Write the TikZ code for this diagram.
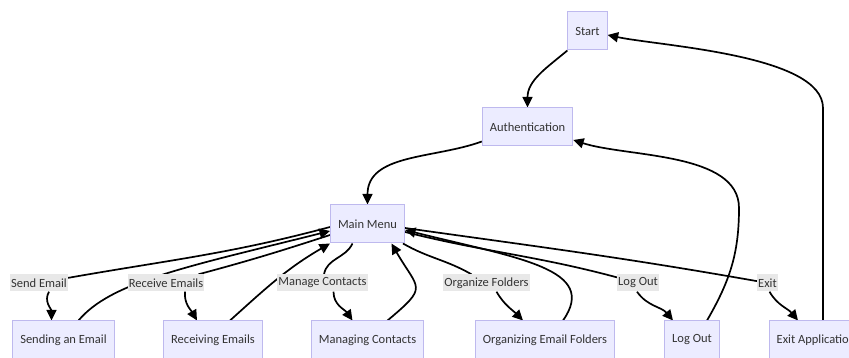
\documentclass[tikz,border=0pt]{standalone}
\usepackage{fontspec}
\setmainfont{Carlito}
\usetikzlibrary{arrows.meta,backgrounds}
\definecolor{boxfill}{RGB}{236,236,255}
\definecolor{boxline}{RGB}{190,185,238}
\definecolor{lblfill}{RGB}{232,232,232}
\definecolor{txtgray}{RGB}{51,51,51}
\begin{document}
\begin{tikzpicture}[
        x=1pt, y=1pt,
        font=\fontsize{12.5}{15}\selectfont,
        text=txtgray
    ]
    \tikzset{
        statenode/.style = {rectangle, draw=boxline, line width=1pt, fill=boxfill, minimum height=38pt, inner xsep=7.5pt},
        edgelabel/.style = {rectangle, fill=lblfill, inner xsep=1pt, inner ysep=0pt, minimum height=17pt},
        flow/.style = {line width=1.7pt, -{Triangle[length=10.5pt,width=10pt]}},
        plain/.style = {line width=1.7pt},
    }
    \useasboundingbox (0,0) rectangle (849,358);
    \node[statenode] (start) at (587.5,327) {Start};
    \node[statenode] (auth) at (527.5,231) {Authentication};
    \node[statenode] (mm) at (367.5,134) {Main Menu};
    \node[statenode] (sending) at (63.5,18) {Sending an Email};
    \node[statenode] (receiving) at (213,18) {Receiving Emails};
    \node[statenode] (managing) at (367.5,18) {Managing Contacts};
    \node[statenode] (organizing) at (545,18) {Organizing Email Folders};
    \node[statenode] (logout) at (692,18) {Log Out};
    \node[statenode] (exitapp) at (816,18) {Exit Application};
    % labels on the edges
    \node[edgelabel] (sendlbl) at (39,75) {Send Email};
    \node[edgelabel] (recvlbl) at (166,75) {Receive Emails};
    \node[edgelabel] (contlbl) at (322.5,75) {Manage Contacts};
    \node[edgelabel] (orglbl) at (486.5,75) {Organize Folders};
    \node[edgelabel] (logoutlbl) at (638,75) {Log Out};
    \node[edgelabel] (exitlbl) at (767.5,75) {Exit};
    \begin{scope}[on background layer]
    \draw[flow] (start.south west) to[out=-140,in=90] (auth.north);
    \draw[flow] ([yshift=5pt]auth.south west) to[out=200,in=90] (mm.north);
    \draw[flow] ([xshift=15pt]logout.north) to[out=60,in=-90] (739,150) to[out=90,in=-18,looseness=0.8] ([yshift=-13pt]auth.east);
    \draw[flow] ([xshift=7pt]exitapp.north) -- (823,250) to[out=90,in=-12,looseness=0.6] ([yshift=-4pt]start.east);
    % send
    \draw[plain] ([yshift=-3pt]mm.west) to[out=195,in=10] (sendlbl);
    \draw[flow] ([xshift=10pt]sendlbl.south) to[out=-120,in=90] ([xshift=-12pt]sending.north);
    \draw[flow] ([xshift=15pt]sending.north) .. controls +(50:50) and +(194:150) .. ([yshift=-7pt]mm.west);
    % receive
    \draw[plain] ([yshift=-11pt]mm.west) to[out=198,in=15] (recvlbl);
    \draw[flow] ([xshift=19pt]recvlbl.south) to[out=-95,in=120] ([xshift=-16pt]receiving.north);
    \draw[flow] ([xshift=17pt]receiving.north) to[out=42,in=210] (mm.south west);
    % contacts
    \draw[plain] ([xshift=-15pt]mm.south) to[out=-115,in=80] (contlbl);
    \draw[flow] ([xshift=11pt]contlbl.south) to[out=-90,in=125] ([xshift=-15pt]managing.north);
    \draw[flow] ([xshift=20pt]managing.north) to[out=40,in=-60,looseness=1.8] ([xshift=24pt]mm.south);
    % folders
    \draw[plain] ([xshift=-2pt]mm.south east) to[out=-30,in=150] (orglbl);
    \draw[flow] ([xshift=10pt]orglbl.south) to[out=-60,in=135] ([xshift=-22pt]organizing.north);
    \draw[flow] ([xshift=18pt]organizing.north) .. controls +(55:63) and +(-14:118) .. ([yshift=-6pt]mm.east);
    % log out
    \draw[plain] ([yshift=-8pt]mm.east) to[out=-14,in=165] (logoutlbl);
    \draw[flow] ([xshift=-1pt]logoutlbl.south) to[out=-55,in=130] ([xshift=-19pt]logout.north);
    % exit
    \draw[plain] ([yshift=-4pt]mm.east) to[out=-8,in=170] (exitlbl);
    \draw[flow] ([xshift=2pt]exitlbl.south) to[out=-60,in=130] ([xshift=-18pt]exitapp.north);
    \end{scope}
\end{tikzpicture}
\end{document}
